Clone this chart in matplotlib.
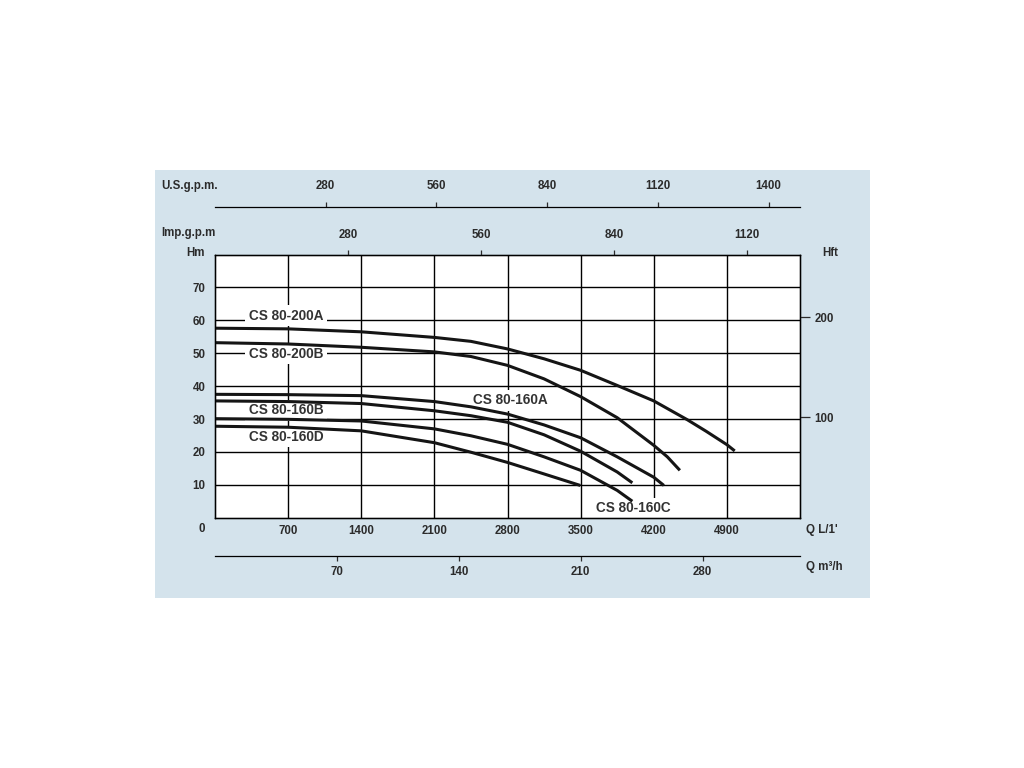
import matplotlib
matplotlib.use('Agg')
import matplotlib.pyplot as plt
from matplotlib.patches import Rectangle

FONT = ['Liberation Sans', 'DejaVu Sans']
plt.rcParams['font.family'] = FONT

# ---------------- data (Q in L/min, H in m) ----------------
q_200a = [0, 700, 1400, 2100, 2450, 2800, 3150, 3500, 3850, 4200, 4520, 4700, 4900, 4975]
h_200a = [57.6, 57.4, 56.5, 54.8, 53.6, 51.3, 48.3, 44.8, 40.2, 35.5, 29.8, 26.3, 22.2, 20.3]

q_200b = [0, 700, 1400, 2100, 2450, 2800, 3150, 3500, 3850, 4200, 4330, 4450]
h_200b = [53.2, 52.8, 51.8, 50.4, 49.0, 46.3, 42.2, 36.8, 30.4, 22.0, 18.5, 14.4]

q_160a = [0, 700, 1400, 2100, 2450, 2800, 3150, 3500, 3850, 4200, 4297]
h_160a = [37.5, 37.4, 37.1, 35.3, 33.7, 31.5, 28.2, 24.3, 18.5, 12.3, 9.8]

q_160b = [0, 700, 1400, 2100, 2450, 2800, 3150, 3500, 3850, 3995]
h_160b = [35.5, 35.3, 34.7, 32.5, 31.0, 29.0, 25.2, 20.2, 13.9, 10.6]

q_160c = [0, 700, 1400, 2100, 2450, 2800, 3150, 3500, 3850, 3995]
h_160c = [30.1, 29.9, 29.4, 27.0, 24.9, 22.3, 18.5, 14.4, 8.3, 5.0]

q_160d = [0, 700, 1400, 2100, 2450, 2800, 3150, 3497]
h_160d = [27.8, 27.5, 26.4, 22.8, 19.9, 16.8, 13.3, 9.8]

curve_names = ['CS 80-200A', 'CS 80-200B', 'CS 80-160A', 'CS 80-160B', 'CS 80-160C', 'CS 80-160D']
label_q = [681, 681, 2826, 681, 4008, 681]
label_h = [61.4, 49.9, 35.7, 32.6, 2.8, 24.5]

x_ticks = [700, 1400, 2100, 2800, 3500, 4200, 4900]
y_ticks = [10, 20, 30, 40, 50, 60, 70]
us_ticks = [280, 560, 840, 1120, 1400]
imp_ticks = [280, 560, 840, 1120]
m3h_ticks = [70, 140, 210, 280]
ft_ticks = [100, 200]

Q_MAX, H_MAX = 5600, 80
US_GAL, IMP_GAL, FT = 3.78541, 4.54609, 0.3048

PANEL = '#d4e3ec'
TXT = '#2b2b2b'
CURVE = '#151515'
TS = 8.3

# ---------------- figure ----------------
W, H = 1024, 768
fig = plt.figure(figsize=(W / 100, H / 100), dpi=100)
fig.patch.set_facecolor('white')

def fx(px):
    return px / W

def fy(py):
    return 1 - py / H

fig.patches.append(Rectangle((fx(155), fy(598)), fx(870) - fx(155), fy(170) - fy(598),
                             transform=fig.transFigure, facecolor=PANEL, edgecolor='none',
                             zorder=-10))

L, R, T, B = 215, 800, 254.5, 517.7
ax = fig.add_axes([fx(L), fy(B), fx(R) - fx(L), fy(T) - fy(B)])
ax.set_facecolor('white')
ax.set_xlim(0, Q_MAX)
ax.set_ylim(0, H_MAX)
ax.set_xticks(x_ticks)
ax.set_yticks(y_ticks)
ax.grid(True, color='black', lw=1.0)
ax.set_axisbelow(True)
for s in ax.spines.values():
    s.set_color('black')
    s.set_linewidth(1.0)
ax.tick_params(axis='x', length=0, pad=5, labelsize=TS, colors=TXT)
ax.tick_params(axis='y', length=0, pad=7, labelsize=TS, colors=TXT)
for lbl in ax.get_xticklabels() + ax.get_yticklabels():
    lbl.set_fontweight('bold')

for q, h in [(q_200a, h_200a), (q_200b, h_200b), (q_160a, h_160a),
             (q_160b, h_160b), (q_160c, h_160c), (q_160d, h_160d)]:
    ax.plot(q, h, color=CURVE, lw=2.2, solid_capstyle='butt',
            solid_joinstyle='round', zorder=3)

for name, lq, lh in zip(curve_names, label_q, label_h):
    ax.text(lq, lh, name, ha='center', va='center', fontsize=9.8, fontweight='bold',
            color='#333333', zorder=2.5,
            bbox=dict(boxstyle='square,pad=0.25', facecolor='white', edgecolor='none'))

# Imp. g.p.m. (top of plot)
ax_imp = ax.twiny()
ax_imp.set_xlim(0, Q_MAX / IMP_GAL)
ax_imp.set_xticks(imp_ticks)
ax_imp.tick_params(axis='x', direction='out', length=3.5, width=0.9, pad=6,
                   labelsize=TS, colors=TXT)
for lbl in ax_imp.get_xticklabels():
    lbl.set_fontweight('bold')

# Hft (right side)
ax_ft = ax.twinx()
ax_ft.set_ylim(0, H_MAX / FT)
ax_ft.set_yticks(ft_ticks)
ax_ft.tick_params(axis='y', direction='out', length=7, width=0.9, pad=3.5,
                  labelsize=TS, colors=TXT)
for lbl in ax_ft.get_yticklabels():
    lbl.set_fontweight('bold')

# U.S. g.p.m. scale line
tiny = 0.0005
ax_us = fig.add_axes([fx(L), fy(207) - tiny, fx(R) - fx(L), tiny])
ax_us.set_facecolor('none')
ax_us.set_xlim(0, Q_MAX / US_GAL)
ax_us.set_yticks([])
for k, s in ax_us.spines.items():
    s.set_visible(k == 'top')
ax_us.spines['top'].set_linewidth(0.9)
ax_us.xaxis.set_ticks_position('top')
ax_us.xaxis.set_label_position('top')
ax_us.set_xticks(us_ticks)
ax_us.tick_params(axis='x', direction='out', length=3.5, width=0.9, pad=7,
                  labelsize=TS, colors=TXT)
for lbl in ax_us.get_xticklabels():
    lbl.set_fontweight('bold')

# m3/h scale line
ax_m3 = fig.add_axes([fx(L), fy(556), fx(R) - fx(L), tiny])
ax_m3.set_facecolor('none')
ax_m3.set_xlim(0, Q_MAX * 0.06)
ax_m3.set_yticks([])
for k, s in ax_m3.spines.items():
    s.set_visible(k == 'bottom')
ax_m3.spines['bottom'].set_linewidth(0.9)
ax_m3.set_xticks(m3h_ticks)
ax_m3.tick_params(axis='x', direction='out', length=3.5, width=0.9, pad=4,
                  labelsize=TS, colors=TXT)
for lbl in ax_m3.get_xticklabels():
    lbl.set_fontweight('bold')

# axis captions
kw = dict(fontsize=TS, fontweight='bold', color=TXT, va='center')
fig.text(fx(161), fy(186), 'U.S.g.p.m.', ha='left', **kw)
fig.text(fx(161), fy(233), 'Imp.g.p.m', ha='left', **kw)
fig.text(fx(205), fy(253), 'Hm', ha='right', **kw)
fig.text(fx(822), fy(253), 'Hft', ha='left', **kw)
fig.text(fx(806), fy(530), "Q L/1'", ha='left', **kw)
fig.text(fx(806), fy(567), 'Q m³/h', ha='left', **kw)
fig.text(fx(202), fy(529), '0', ha='center', **kw)

fig.savefig('out.png', dpi=100)
